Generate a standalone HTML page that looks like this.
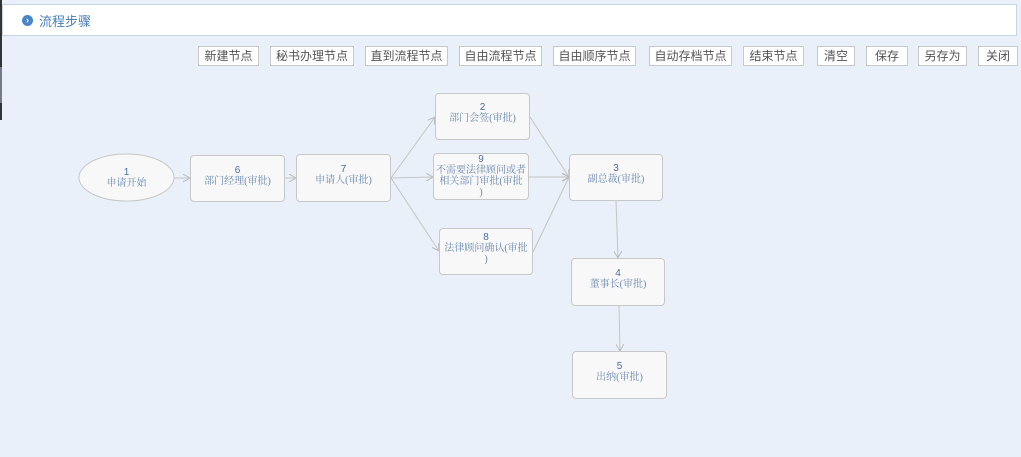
<!DOCTYPE html>
<html><head><meta charset="utf-8"><style>
*{margin:0;padding:0;box-sizing:border-box}
body{width:1021px;height:457px;background:#eaf0fa;position:relative;overflow:hidden;font-family:"Liberation Sans","Noto Sans CJK SC",sans-serif}
.hdr{position:absolute;left:2px;top:4px;width:1015px;height:32px;background:#fff;border:1px solid #c5d3e3}
.hdr .ic{position:absolute;left:19px;top:10px;width:11px;height:11px;border-radius:50%;background:#4a86c8;color:#fff;font-size:9px;line-height:11px;text-align:center;font-weight:bold}
.hdr .t{position:absolute;left:36px;top:6px;font-size:13px;color:#4a7fb8}
.b{position:absolute;top:46px;height:20px;background:#fff;border:1px solid #c8c8c8;font-size:12px;color:#555;text-align:center;line-height:18px}
.n{position:absolute;background:#f8f8f8;border:1px solid #c8c8c8;border-radius:4px;text-align:center;font-size:10px;color:#6a89b0;line-height:11px;font-family:"Liberation Serif","Noto Serif CJK SC",serif}
.n b{display:block;font-family:"Liberation Sans",sans-serif;font-weight:normal;color:#4a6fa0;font-size:10px;line-height:11px}
svg{position:absolute;left:0;top:0}
</style></head><body>
<div style="position:absolute;left:0;top:0;width:2px;height:67px;background:#333"></div>
<div style="position:absolute;left:0;top:67px;width:2px;height:36px;background:#778"></div>
<div style="position:absolute;left:0;top:103px;width:2px;height:17px;background:#333"></div>
<div class="hdr"><div class="ic">›</div><div class="t">流程步骤</div></div>
<div class="b" style="left:198px;width:61px">新建节点</div>
<div class="b" style="left:270px;width:84px">秘书办理节点</div>
<div class="b" style="left:365px;width:83px">直到流程节点</div>
<div class="b" style="left:459px;width:83px">自由流程节点</div>
<div class="b" style="left:553px;width:83px">自由顺序节点</div>
<div class="b" style="left:649px;width:83px">自动存档节点</div>
<div class="b" style="left:743px;width:61px">结束节点</div>
<div class="b" style="left:817px;width:38px">清空</div>
<div class="b" style="left:866px;width:42px">保存</div>
<div class="b" style="left:918px;width:49px">另存为</div>
<div class="b" style="left:978px;width:40px">关闭</div>
<svg width="1021" height="457">
<defs><marker id="a" markerWidth="8" markerHeight="8" refX="7" refY="4" orient="auto" markerUnits="userSpaceOnUse"><path d="M0,0 L7,4 L0,8" fill="none" stroke="#bbb" stroke-width="1"/></marker></defs>
<g stroke="#c4c4c4" stroke-width="1" fill="none" marker-end="url(#a)">
<line x1="174" y1="178" x2="190" y2="178"/>
<line x1="285" y1="178" x2="296" y2="178"/>
<line x1="391" y1="178" x2="435" y2="117"/>
<line x1="391" y1="178" x2="433" y2="177"/>
<line x1="391" y1="178" x2="439" y2="251"/>
<line x1="530" y1="117" x2="569" y2="177"/>
<line x1="529" y1="177" x2="569" y2="177"/>
<line x1="533" y1="252" x2="569" y2="177"/>
<line x1="616" y1="201" x2="618" y2="258"/>
<line x1="619" y1="306" x2="620" y2="351"/>
</g>
<ellipse cx="126.5" cy="177.5" rx="47.5" ry="23.5" fill="#f8f8f8" stroke="#c8c8c8"/>
</svg>
<div class="n" style="left:79px;top:154px;width:95px;height:47px;background:none;border:none;padding-top:13px"><b>1</b>申请开始</div>
<div class="n" style="left:190px;top:155px;width:95px;height:47px;padding-top:9px"><b>6</b>部门经理(审批)</div>
<div class="n" style="left:296px;top:154px;width:95px;height:48px;padding-top:9px"><b>7</b>申请人(审批)</div>
<div class="n" style="left:435px;top:93px;width:95px;height:47px;padding-top:8px"><b>2</b>部门会签(审批)</div>
<div class="n" style="left:433px;top:153px;width:96px;height:47px;padding-top:0px"><b>9</b>不需要法律顾问或者<br>相关部门审批(审批<br>)</div>
<div class="n" style="left:439px;top:228px;width:94px;height:47px;padding-top:3px"><b>8</b>法律顾问确认(审批<br>)</div>
<div class="n" style="left:569px;top:154px;width:94px;height:47px;padding-top:8px"><b>3</b>副总裁(审批)</div>
<div class="n" style="left:571px;top:258px;width:94px;height:48px;padding-top:9px"><b>4</b>董事长(审批)</div>
<div class="n" style="left:572px;top:351px;width:95px;height:48px;padding-top:9px"><b>5</b>出纳(审批)</div>
</body></html>
